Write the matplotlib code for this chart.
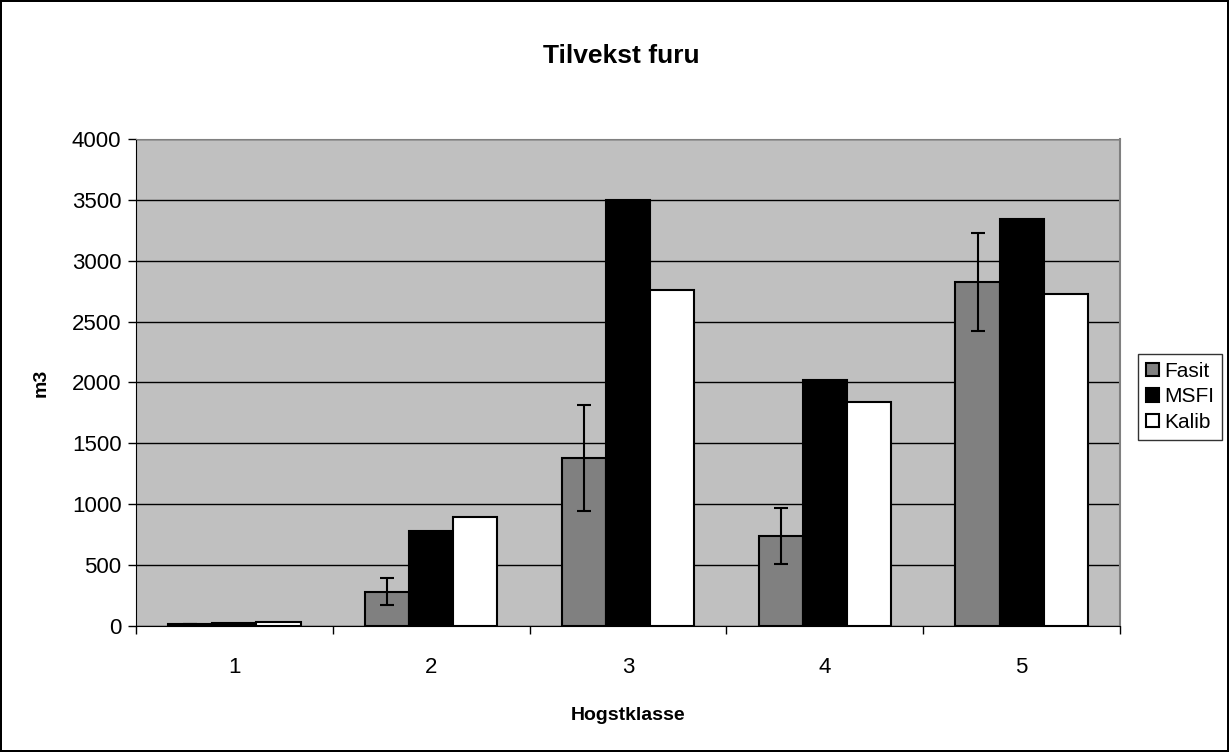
import numpy as np
import matplotlib
matplotlib.use("Agg")
import matplotlib.pyplot as plt
from matplotlib.patches import Patch

plt.rcParams["font.family"] = ["Liberation Sans", "DejaVu Sans"]

klasser = ["1", "2", "3", "4", "5"]
fasit = [15, 282, 1377, 739, 2824]
fasit_err = [0, 110, 434, 232, 405]
msfi = [22, 783, 3498, 2020, 3342]
kalib = [30, 892, 2761, 1842, 2726]

fig = plt.figure(figsize=(12.29, 7.52), dpi=100, edgecolor="black", linewidth=1.5)
ax = fig.add_axes([0.1107, 0.1676, 0.8006, 0.6476])
ax.set_facecolor("#c0c0c0")

x = np.arange(len(klasser))
w = 0.224
ax.bar(x - w, fasit, w, color="#808080", edgecolor="black", linewidth=1.5, zorder=3,
       yerr=fasit_err, error_kw=dict(ecolor="black", elinewidth=1.5, capsize=5, capthick=1.5, zorder=4))
ax.bar(x, msfi, w, color="black", edgecolor="black", linewidth=1.5, zorder=3)
ax.bar(x + w, kalib, w, color="white", edgecolor="black", linewidth=1.5, zorder=3)

ax.set_xlim(-0.5, len(klasser) - 0.5)
ax.set_ylim(0, 4000)
ax.set_yticks(np.arange(0, 4001, 500))
ax.yaxis.grid(True, color="black", linewidth=1)
ax.set_axisbelow(True)

# kategorietiketter midt i, tick-streker mellom kategoriene
ax.set_xticks(x)
ax.set_xticklabels(klasser)
ax.tick_params(axis="x", length=0, pad=22, labelsize=16)
ax.set_xticks(np.arange(-0.5, len(klasser)), minor=True)
ax.tick_params(axis="x", which="minor", length=5.5, width=1, direction="out")
ax.tick_params(axis="y", length=5.5, width=1, direction="out", pad=5, labelsize=16)

ax.spines["top"].set_color("#808080")
ax.spines["right"].set_color("#808080")
ax.spines["right"].set_linewidth(1.5)
ax.spines["left"].set_color("black")
ax.spines["bottom"].set_color("black")

fig.text(621 / 1229, 1 - 56 / 752, "Tilvekst furu", fontsize=19, fontweight="bold",
         ha="center", va="center")
ax.set_xlabel("Hogstklasse", fontsize=14, fontweight="bold", labelpad=21)
ax.set_ylabel("m3", fontsize=14, fontweight="bold", labelpad=16)

handles = [Patch(facecolor="#808080", edgecolor="black", linewidth=1.5),
           Patch(facecolor="black", edgecolor="black", linewidth=1.5),
           Patch(facecolor="white", edgecolor="black", linewidth=1.5)]
leg = fig.legend(handles, ["Fasit", "MSFI", "Kalib"], loc="lower left",
                 bbox_to_anchor=(1138 / 1229, 1 - 440 / 752), fontsize=15, frameon=True,
                 fancybox=False, handlelength=0.6, handleheight=0.6, handletextpad=0.25,
                 borderpad=0.4, labelspacing=0.3, borderaxespad=0)
leg.get_frame().set_edgecolor("black")
leg.get_frame().set_linewidth(1)

fig.savefig("out.png", dpi=100)
